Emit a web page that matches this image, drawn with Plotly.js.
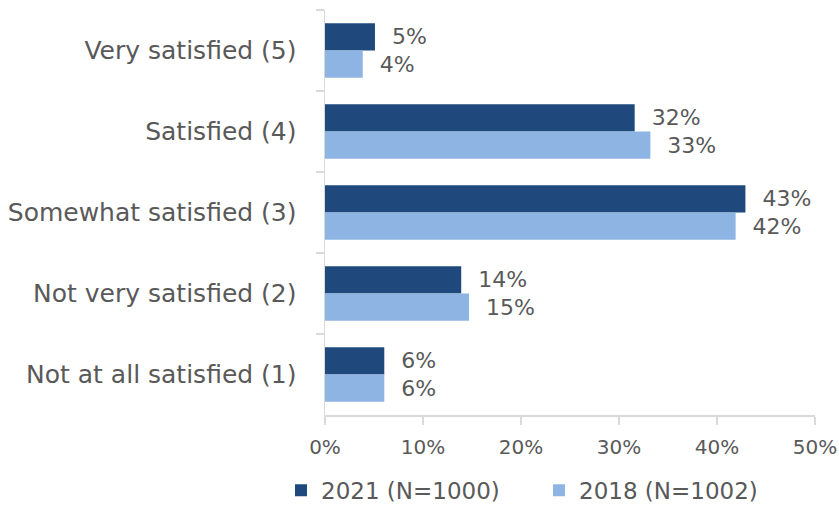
<!DOCTYPE html>
<html>
<head>
<meta charset="utf-8">
<script src="https://cdn.plot.ly/plotly-3.0.1.min.js"></script>
<style>html,body{margin:0;padding:0;background:#fff;}#chart{width:839px;height:507px;}</style>
</head>
<body>
<div id="chart"></div>
<script>
var categories = ["Very satisfied (5)", "Satisfied (4)", "Somewhat satisfied (3)", "Not very satisfied (2)", "Not at all satisfied (1)"];
var seriesNames = ["2021 (N=1000)", "2018 (N=1002)"];
var values2021 = [5.1, 31.6, 42.9, 13.9, 6.05];
var values2018 = [3.85, 33.2, 41.9, 14.7, 6.05];
var xTicks = [0, 10, 20, 30, 40, 50];
var xTickLabels = ["0%", "10%", "20%", "30%", "40%", "50%"];

var FONT = "DejaVu Sans";
var TXT = "#595959";

function barTrace(name, vals, color) {
  return {
    type: "bar",
    orientation: "h",
    name: name,
    y: categories,
    x: vals,
    marker: {color: color},
    texttemplate: "\u00a0\u00a0%{x:.0f}%",
    textposition: "outside",
    constraintext: "none",
    cliponaxis: false,
    textfont: {family: FONT, size: 22, color: TXT},
    hoverinfo: "skip"
  };
}

var data = [
  barTrace(seriesNames[0], values2021, "#1F497D"),
  barTrace(seriesNames[1], values2018, "#8EB4E3")
];

var layout = {
  width: 839,
  height: 507,
  margin: {l: 325, r: 24, t: 10, b: 92, pad: 0, autoexpand: false},
  paper_bgcolor: "#ffffff",
  plot_bgcolor: "#ffffff",
  barmode: "group",
  bargap: 0.33,
  bargroupgap: 0,
  showlegend: true,
  legend: {
    orientation: "h",
    x: -0.0898, xanchor: "left",
    y: -0.133, yanchor: "top",
    font: {family: FONT, size: 23, color: TXT},
    traceorder: "normal",
    itemwidth: 30,
    entrywidth: 213,
    tracegroupgap: 0
  },
  xaxis: {
    range: [0, 50],
    tickvals: xTicks,
    ticktext: xTickLabels,
    ticklabeloverflow: "allow",
    showgrid: false,
    zeroline: false,
    showline: true,
    linecolor: "#d9d9d9",
    linewidth: 1.5,
    ticks: "outside",
    ticklen: 8,
    tickcolor: "#d9d9d9",
    tickwidth: 1.5,
    ticklabelstandoff: 5,
    tickfont: {family: FONT, size: 20, color: TXT},
    automargin: false,
    fixedrange: true
  },
  yaxis: {
    type: "category",
    autorange: "reversed",
    showgrid: false,
    zeroline: false,
    showline: true,
    linecolor: "#d9d9d9",
    linewidth: 1.5,
    ticks: "outside",
    tickson: "boundaries",
    ticklen: 8,
    tickcolor: "#d9d9d9",
    tickwidth: 1.5,
    ticklabelstandoff: 22,
    tickfont: {family: FONT, size: 25, color: TXT},
    automargin: false,
    fixedrange: true
  }
};

Plotly.newPlot("chart", data, layout, {displayModeBar: false, staticPlot: true});
</script>
</body>
</html>
